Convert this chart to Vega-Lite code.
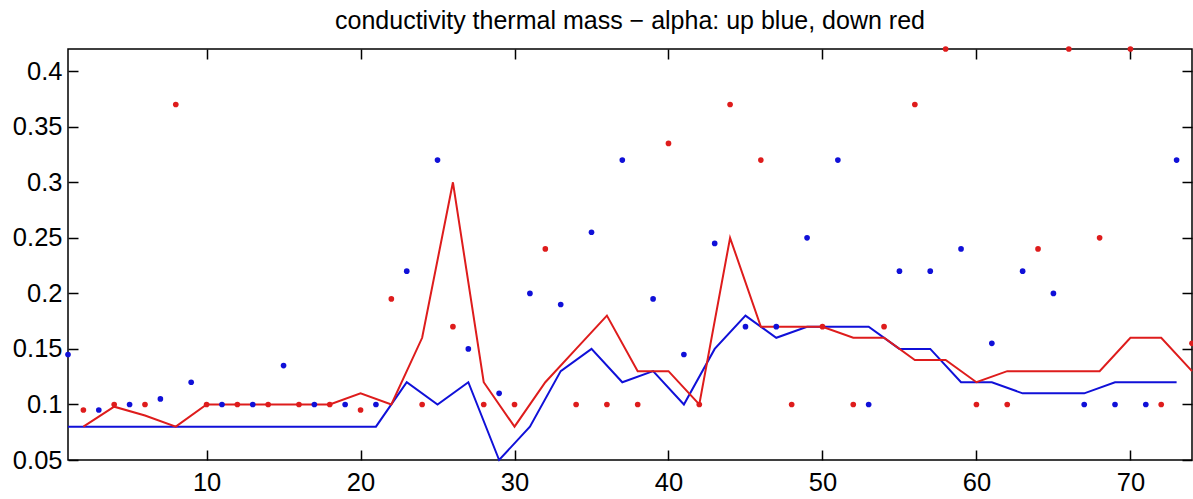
{
  "$schema": "https://vega.github.io/schema/vega-lite/v6.json",
  "width": 1124,
  "height": 411,
  "autosize": "none",
  "padding": {"left": 68, "top": 49, "right": 1, "bottom": 39},
  "background": "white",
  "title": {"text": "conductivity thermal mass − alpha: up blue, down red", "font": "Liberation Sans", "fontSize": 25, "fontWeight": "normal", "color": "black", "anchor": "middle", "offset": 12},
  "config": {
    "view": {"stroke": "black", "strokeWidth": 1.5},
    "axis": {"domain": false, "grid": false, "tickColor": "black", "tickSize": -10, "tickWidth": 1.5, "labelFont": "Liberation Sans", "labelFontSize": 25.5, "labelColor": "black", "title": null}
  },
  "datasets": {
    "pts": [
      {"x": 1, "alpha": 0.145, "dir": "up"}, {"x": 3, "alpha": 0.095, "dir": "up"}, {"x": 5, "alpha": 0.1, "dir": "up"}, {"x": 7, "alpha": 0.105, "dir": "up"}, {"x": 9, "alpha": 0.12, "dir": "up"}, {"x": 11, "alpha": 0.1, "dir": "up"}, {"x": 13, "alpha": 0.1, "dir": "up"}, {"x": 15, "alpha": 0.135, "dir": "up"}, {"x": 17, "alpha": 0.1, "dir": "up"}, {"x": 19, "alpha": 0.1, "dir": "up"}, {"x": 21, "alpha": 0.1, "dir": "up"}, {"x": 23, "alpha": 0.22, "dir": "up"}, {"x": 25, "alpha": 0.32, "dir": "up"}, {"x": 27, "alpha": 0.15, "dir": "up"}, {"x": 29, "alpha": 0.11, "dir": "up"}, {"x": 31, "alpha": 0.2, "dir": "up"}, {"x": 33, "alpha": 0.19, "dir": "up"}, {"x": 35, "alpha": 0.255, "dir": "up"}, {"x": 37, "alpha": 0.32, "dir": "up"}, {"x": 39, "alpha": 0.195, "dir": "up"}, {"x": 41, "alpha": 0.145, "dir": "up"}, {"x": 43, "alpha": 0.245, "dir": "up"}, {"x": 45, "alpha": 0.17, "dir": "up"}, {"x": 47, "alpha": 0.17, "dir": "up"}, {"x": 49, "alpha": 0.25, "dir": "up"}, {"x": 51, "alpha": 0.32, "dir": "up"}, {"x": 53, "alpha": 0.1, "dir": "up"}, {"x": 55, "alpha": 0.22, "dir": "up"}, {"x": 57, "alpha": 0.22, "dir": "up"}, {"x": 59, "alpha": 0.24, "dir": "up"}, {"x": 61, "alpha": 0.155, "dir": "up"}, {"x": 63, "alpha": 0.22, "dir": "up"}, {"x": 65, "alpha": 0.2, "dir": "up"}, {"x": 67, "alpha": 0.1, "dir": "up"}, {"x": 69, "alpha": 0.1, "dir": "up"}, {"x": 71, "alpha": 0.1, "dir": "up"}, {"x": 73, "alpha": 0.32, "dir": "up"},
      {"x": 2, "alpha": 0.095, "dir": "down"}, {"x": 4, "alpha": 0.1, "dir": "down"}, {"x": 6, "alpha": 0.1, "dir": "down"}, {"x": 8, "alpha": 0.37, "dir": "down"}, {"x": 10, "alpha": 0.1, "dir": "down"}, {"x": 12, "alpha": 0.1, "dir": "down"}, {"x": 14, "alpha": 0.1, "dir": "down"}, {"x": 16, "alpha": 0.1, "dir": "down"}, {"x": 18, "alpha": 0.1, "dir": "down"}, {"x": 20, "alpha": 0.095, "dir": "down"}, {"x": 22, "alpha": 0.195, "dir": "down"}, {"x": 24, "alpha": 0.1, "dir": "down"}, {"x": 26, "alpha": 0.17, "dir": "down"}, {"x": 28, "alpha": 0.1, "dir": "down"}, {"x": 30, "alpha": 0.1, "dir": "down"}, {"x": 32, "alpha": 0.24, "dir": "down"}, {"x": 34, "alpha": 0.1, "dir": "down"}, {"x": 36, "alpha": 0.1, "dir": "down"}, {"x": 38, "alpha": 0.1, "dir": "down"}, {"x": 40, "alpha": 0.335, "dir": "down"}, {"x": 42, "alpha": 0.1, "dir": "down"}, {"x": 44, "alpha": 0.37, "dir": "down"}, {"x": 46, "alpha": 0.32, "dir": "down"}, {"x": 48, "alpha": 0.1, "dir": "down"}, {"x": 50, "alpha": 0.17, "dir": "down"}, {"x": 52, "alpha": 0.1, "dir": "down"}, {"x": 54, "alpha": 0.17, "dir": "down"}, {"x": 56, "alpha": 0.37, "dir": "down"}, {"x": 58, "alpha": 0.42, "dir": "down"}, {"x": 60, "alpha": 0.1, "dir": "down"}, {"x": 62, "alpha": 0.1, "dir": "down"}, {"x": 64, "alpha": 0.24, "dir": "down"}, {"x": 66, "alpha": 0.42, "dir": "down"}, {"x": 68, "alpha": 0.25, "dir": "down"}, {"x": 70, "alpha": 0.42, "dir": "down"}, {"x": 72, "alpha": 0.1, "dir": "down"}, {"x": 74, "alpha": 0.155, "dir": "down"}
    ],
    "lines": [
      {"x": 1, "alpha": 0.08, "dir": "up"}, {"x": 3, "alpha": 0.08, "dir": "up"}, {"x": 5, "alpha": 0.08, "dir": "up"}, {"x": 7, "alpha": 0.08, "dir": "up"}, {"x": 9, "alpha": 0.08, "dir": "up"}, {"x": 11, "alpha": 0.08, "dir": "up"}, {"x": 13, "alpha": 0.08, "dir": "up"}, {"x": 15, "alpha": 0.08, "dir": "up"}, {"x": 17, "alpha": 0.08, "dir": "up"}, {"x": 19, "alpha": 0.08, "dir": "up"}, {"x": 21, "alpha": 0.08, "dir": "up"}, {"x": 23, "alpha": 0.12, "dir": "up"}, {"x": 25, "alpha": 0.1, "dir": "up"}, {"x": 27, "alpha": 0.12, "dir": "up"}, {"x": 29, "alpha": 0.05, "dir": "up"}, {"x": 31, "alpha": 0.08, "dir": "up"}, {"x": 33, "alpha": 0.13, "dir": "up"}, {"x": 35, "alpha": 0.15, "dir": "up"}, {"x": 37, "alpha": 0.12, "dir": "up"}, {"x": 39, "alpha": 0.13, "dir": "up"}, {"x": 41, "alpha": 0.1, "dir": "up"}, {"x": 43, "alpha": 0.15, "dir": "up"}, {"x": 45, "alpha": 0.18, "dir": "up"}, {"x": 47, "alpha": 0.16, "dir": "up"}, {"x": 49, "alpha": 0.17, "dir": "up"}, {"x": 51, "alpha": 0.17, "dir": "up"}, {"x": 53, "alpha": 0.17, "dir": "up"}, {"x": 55, "alpha": 0.15, "dir": "up"}, {"x": 57, "alpha": 0.15, "dir": "up"}, {"x": 59, "alpha": 0.12, "dir": "up"}, {"x": 61, "alpha": 0.12, "dir": "up"}, {"x": 63, "alpha": 0.11, "dir": "up"}, {"x": 65, "alpha": 0.11, "dir": "up"}, {"x": 67, "alpha": 0.11, "dir": "up"}, {"x": 69, "alpha": 0.12, "dir": "up"}, {"x": 71, "alpha": 0.12, "dir": "up"}, {"x": 73, "alpha": 0.12, "dir": "up"},
      {"x": 2, "alpha": 0.08, "dir": "down"}, {"x": 4, "alpha": 0.098, "dir": "down"}, {"x": 6, "alpha": 0.09, "dir": "down"}, {"x": 8, "alpha": 0.08, "dir": "down"}, {"x": 10, "alpha": 0.1, "dir": "down"}, {"x": 12, "alpha": 0.1, "dir": "down"}, {"x": 14, "alpha": 0.1, "dir": "down"}, {"x": 16, "alpha": 0.1, "dir": "down"}, {"x": 18, "alpha": 0.1, "dir": "down"}, {"x": 20, "alpha": 0.11, "dir": "down"}, {"x": 22, "alpha": 0.1, "dir": "down"}, {"x": 24, "alpha": 0.16, "dir": "down"}, {"x": 26, "alpha": 0.3, "dir": "down"}, {"x": 28, "alpha": 0.12, "dir": "down"}, {"x": 30, "alpha": 0.08, "dir": "down"}, {"x": 32, "alpha": 0.12, "dir": "down"}, {"x": 34, "alpha": 0.15, "dir": "down"}, {"x": 36, "alpha": 0.18, "dir": "down"}, {"x": 38, "alpha": 0.13, "dir": "down"}, {"x": 40, "alpha": 0.13, "dir": "down"}, {"x": 42, "alpha": 0.1, "dir": "down"}, {"x": 44, "alpha": 0.25, "dir": "down"}, {"x": 46, "alpha": 0.17, "dir": "down"}, {"x": 48, "alpha": 0.17, "dir": "down"}, {"x": 50, "alpha": 0.17, "dir": "down"}, {"x": 52, "alpha": 0.16, "dir": "down"}, {"x": 54, "alpha": 0.16, "dir": "down"}, {"x": 56, "alpha": 0.14, "dir": "down"}, {"x": 58, "alpha": 0.14, "dir": "down"}, {"x": 60, "alpha": 0.12, "dir": "down"}, {"x": 62, "alpha": 0.13, "dir": "down"}, {"x": 64, "alpha": 0.13, "dir": "down"}, {"x": 66, "alpha": 0.13, "dir": "down"}, {"x": 68, "alpha": 0.13, "dir": "down"}, {"x": 70, "alpha": 0.16, "dir": "down"}, {"x": 72, "alpha": 0.16, "dir": "down"}, {"x": 74, "alpha": 0.13, "dir": "down"}
    ]
  },
  "resolve": {"axis": {"x": "independent", "y": "independent"}},
  "layer": [
    {
      "data": {"name": "lines"},
      "mark": {"type": "line", "strokeWidth": 2},
      "encoding": {
        "x": {"field": "x", "type": "quantitative", "scale": {"domain": [1, 74], "nice": false, "zero": false}, "axis": {"values": [10, 20, 30, 40, 50, 60, 70], "labelPadding": 20, "orient": "bottom"}},
        "y": {"field": "alpha", "type": "quantitative", "scale": {"domain": [0.05, 0.42], "nice": false, "zero": false}, "axis": {"values": [0.05, 0.1, 0.15, 0.2, 0.25, 0.3, 0.35, 0.4], "format": ".2~f", "labelPadding": 16, "orient": "left"}},
        "color": {"field": "dir", "type": "nominal", "scale": {"domain": ["up", "down"], "range": ["#1010d8", "#de1c1c"]}, "legend": null},
        "order": {"field": "x", "type": "quantitative"}
      }
    },
    {
      "data": {"name": "pts"},
      "mark": {"type": "circle", "size": 32, "opacity": 1},
      "encoding": {
        "x": {"field": "x", "type": "quantitative", "axis": null},
        "y": {"field": "alpha", "type": "quantitative", "axis": null},
        "color": {"field": "dir", "type": "nominal", "legend": null}
      }
    },
    {
      "data": {"name": "lines"},
      "mark": {"type": "line", "opacity": 0},
      "encoding": {
        "x": {"field": "x", "type": "quantitative", "axis": {"values": [10, 20, 30, 40, 50, 60, 70], "labels": false, "orient": "top"}},
        "y": {"field": "alpha", "type": "quantitative", "axis": {"values": [0.05, 0.1, 0.15, 0.2, 0.25, 0.3, 0.35, 0.4], "labels": false, "orient": "right"}},
        "detail": {"field": "dir"}
      }
    }
  ]
}
